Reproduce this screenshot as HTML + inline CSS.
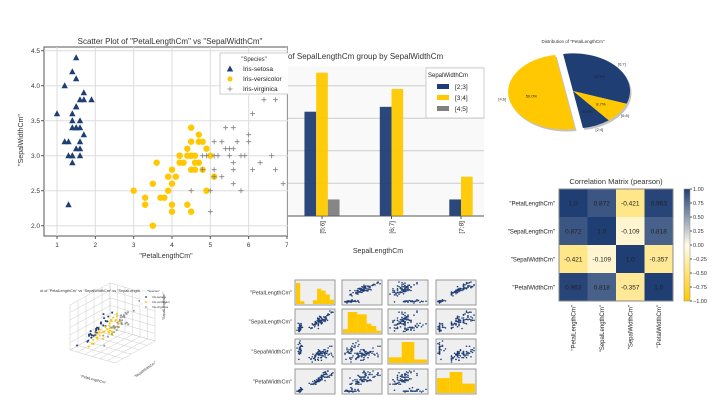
<!DOCTYPE html>
<html><head><meta charset="utf-8"><style>
html,body{margin:0;padding:0;background:#fff;width:720px;height:405px;overflow:hidden}
svg{display:block;font-family:"Liberation Sans",sans-serif}
</style></head><body>
<svg id="s" width="720" height="405" viewBox="0 0 720 405"></svg>
<script>
// ---------- data ----------
const setosaRows=[[5.1,3.5,1.4,0.2],[4.9,3.0,1.4,0.2],[4.7,3.2,1.3,0.2],[4.6,3.1,1.5,0.2],[5.0,3.6,1.4,0.2],[5.4,3.9,1.7,0.4],[4.6,3.4,1.4,0.3],[5.0,3.4,1.5,0.2],[4.4,2.9,1.4,0.2],[5.4,3.7,1.5,0.2],[4.8,3.4,1.6,0.2],[5.8,4.0,1.2,0.2],[5.7,4.4,1.5,0.4],[5.7,3.8,1.7,0.3],[4.5,2.3,1.3,0.3],[5.2,4.1,1.5,0.1],[5.5,4.2,1.4,0.2],[4.6,3.6,1.0,0.2],[5.1,3.3,1.7,0.5],[4.8,3.0,1.4,0.1],[5.1,3.8,1.9,0.4],[5.3,3.7,1.5,0.2],[5.0,3.2,1.2,0.2],[4.4,3.0,1.3,0.2],[5.1,3.4,1.5,0.2],[5.0,3.5,1.6,0.6],[5.1,3.8,1.6,0.2],[4.8,3.1,1.6,0.2],[5.0,3.0,1.6,0.2],[4.7,3.2,1.6,0.2]];
const versicolorRows=[[7.0,3.2,4.7,1.4],[6.4,3.2,4.5,1.5],[6.9,3.1,4.9,1.5],[5.5,2.3,4.0,1.3],[6.5,2.8,4.6,1.5],[5.7,2.8,4.5,1.3],[6.3,3.3,4.7,1.6],[4.9,2.4,3.3,1.0],[6.6,2.9,4.6,1.3],[5.2,2.7,3.9,1.4],[5.0,2.0,3.5,1.0],[5.9,3.0,4.2,1.5],[6.0,2.2,4.0,1.0],[6.1,2.9,4.7,1.4],[5.6,2.9,3.6,1.3],[6.7,3.1,4.4,1.4],[5.6,3.0,4.5,1.5],[5.8,2.7,4.1,1.0],[6.2,2.2,4.5,1.5],[5.6,2.5,3.9,1.1],[5.9,3.2,4.8,1.8],[6.0,3.4,4.5,1.6],[5.7,2.6,3.5,1.0],[6.0,2.7,5.1,1.6],[5.4,3.0,4.5,1.5],[5.5,2.4,3.8,1.1],[5.5,2.4,3.7,1.0],[6.1,3.0,4.6,1.4],[5.8,2.6,4.0,1.2],[5.0,2.3,3.3,1.0],[6.3,2.5,4.9,1.5],[6.1,2.8,4.0,1.3],[6.7,3.0,5.0,1.7],[5.7,3.0,4.2,1.2],[6.2,2.9,4.3,1.3],[5.1,2.5,3.0,1.1],[6.6,3.0,4.4,1.4],[6.8,2.8,4.8,1.4],[5.7,2.9,4.2,1.3],[6.3,2.3,4.4,1.3]];
const virginicaRows=[[6.3,3.3,6.0,2.5],[5.8,2.7,5.1,1.9],[7.1,3.0,5.9,2.1],[6.3,2.9,5.6,1.8],[6.5,3.0,5.8,2.2],[7.6,3.0,6.6,2.1],[4.9,2.5,4.5,1.7],[7.3,2.9,6.3,1.8],[6.7,2.5,5.8,1.8],[7.2,3.6,6.1,2.5],[6.5,3.2,5.1,2.0],[6.4,2.7,5.3,1.9],[6.8,3.0,5.5,2.1],[5.7,2.5,5.0,2.0],[7.7,3.8,6.7,2.2],[7.7,2.6,6.9,2.3],[6.0,2.2,5.0,1.5],[6.9,3.2,5.7,2.3],[7.7,2.8,6.7,2.0],[6.3,3.4,5.6,2.4],[7.9,3.8,6.4,2.0],[6.1,2.6,5.6,1.4],[7.2,3.2,6.0,1.8],[6.2,2.8,4.8,1.8],[6.4,3.1,5.5,1.8],[6.0,3.0,4.8,1.8],[6.9,3.1,5.4,2.1],[6.7,3.1,5.6,2.4],[6.4,2.8,5.6,2.1],[7.4,2.8,6.1,1.9],[6.5,3.0,5.2,2.0],[6.2,3.4,5.4,2.3],[5.9,3.0,5.1,1.8],[6.3,2.8,5.1,1.5],[6.1,3.0,4.9,1.8],[6.4,3.2,5.3,2.3]];
const scatterXTicks=[1,2,3,4,5,6,7];
const scatterYTicks=[2.0,2.5,3.0,3.5,4.0,4.5];
const barCategories=["[5;6]","[6;7]","[7;8]"];
const barSeriesNames=["[2;3]","[3;4]","[4;5]"];
const barSeries23=[32,33.5,5];
const barSeries34=[44,39,12];
const barSeries45=[5,0,0];
const barGridValues=[10,20,30,40];
const pieLabels=["[6;7]","[6;8]","[2;4]","[4;6]"];
const pieValues=[33.3,8.7,8.0,50.0];
const corrLabels=['"PetalLengthCm"','"SepalLengthCm"','"SepalWidthCm"','"PetalWidthCm"'];
const corrRow0=[1.0,0.872,-0.421,0.963];
const corrRow1=[0.872,1.0,-0.109,0.818];
const corrRow2=[-0.421,-0.109,1.0,-0.357];
const corrRow3=[0.963,0.818,-0.357,1.0];
const corrText=[["1.0","0.872","-0.421","0.963"],["0.872","1.0","-0.109","0.818"],["-0.421","-0.109","1.0","-0.357"],["0.963","0.818","-0.357","1.0"]];
const cbarTicks=[1.00,0.75,0.50,0.25,0.00,-0.25,-0.50,-0.75,-1.00];
const histPetalLength=[44,6,0,0,8,32,28,20,9];
const histSepalLength=[5,27,27,24,24,12,9,3];
const histSepalWidth=[13,48,8];
const histPetalWidth=[27,38,17];

const NAVY="#1f3e74",YEL="#ffc800",GR="#808080";
const S=document.getElementById('s');
const NS="http://www.w3.org/2000/svg";
function mk(tag,attrs,parent){const e=document.createElementNS(NS,tag);for(const k in attrs)e.setAttribute(k,attrs[k]);(parent||S).appendChild(e);return e;}
function txt(x,y,t,attrs,parent){const e=mk('text',Object.assign({x:x,y:y},attrs||{}),parent);e.textContent=t;return e;}

// ---------- scatter ----------
const sx=v=>57+(v-1)*38.33, sy=v=>225.7-(v-2)*70;
const sc=mk('g',{});


mk('rect',{x:44,y:47,width:244,height:189,fill:'#fff',stroke:'#555','stroke-width':1},sc);
scatterXTicks.forEach(t=>{mk('line',{x1:sx(t),x2:sx(t),y1:47,y2:236,stroke:'#ddd'},sc);mk('line',{x1:sx(t),x2:sx(t),y1:236,y2:239,stroke:'#555'},sc);
 const l=txt(sx(t),247,String(t),{'font-size':6.5,'text-anchor':'middle',fill:'#333'},sc);});
scatterYTicks.forEach(t=>{mk('line',{x1:44,x2:288,y1:sy(t),y2:sy(t),stroke:'#ddd'},sc);mk('line',{x1:41,x2:44,y1:sy(t),y2:sy(t),stroke:'#555'},sc);
 const l=txt(40,sy(t)+2.5,t.toFixed(1),{'font-size':6.5,'text-anchor':'end',fill:'#333'},sc);});
const st=txt(170,44,'Scatter Plot of "PetalLengthCm" vs "SepalWidthCm"',{'font-size':8,'text-anchor':'middle',fill:'#333'},sc);

const sxt=txt(166,258,'"PetalLengthCm"',{'font-size':7,'text-anchor':'middle',fill:'#333'},sc);

const syt=txt(0,0,'"SepalWidthCm"',{'font-size':7,'text-anchor':'middle',fill:'#333',transform:'translate(23,140) rotate(-90)'},sc);

function tri(x,y,c,p){const e=mk('path',{d:`M${x},${y-3.5}L${x+3.2},${y+2.5}L${x-3.2},${y+2.5}Z`,fill:c},p);return e;}
function plus(x,y,c,p){const e=mk('path',{d:`M${x-2.5},${y}H${x+2.5}M${x},${y-2.5}V${y+2.5}`,stroke:c,'stroke-width':0.8},p);return e;}
setosaRows.forEach(r=>{const e=tri(sx(r[2]),sy(r[1]),NAVY,sc);});
versicolorRows.forEach(r=>{const e=mk('circle',{cx:sx(r[2]),cy:sy(r[1]),r:3.2,fill:YEL},sc);});
virginicaRows.forEach(r=>{if(sx(r[2])>288)return;const e=plus(sx(r[2]),sy(r[1]),GR,sc);});
const lg=mk('g',{},sc);

mk('rect',{x:220,y:53,width:70,height:41,fill:'#fff',stroke:'#ccc'},lg);
txt(254,61,'"Species"',{'font-size':6,'text-anchor':'middle',fill:'#333'},lg);
tri(230,69,NAVY,lg);txt(243,71,'Iris-setosa',{'font-size':6.5,fill:'#222'},lg);
mk('circle',{cx:230,cy:79,r:2.5,fill:YEL},lg);txt(243,81,'Iris-versicolor',{'font-size':6.5,fill:'#222'},lg);
plus(230,89,GR,lg);txt(243,91,'Iris-virginica',{'font-size':6.5,fill:'#222'},lg);

// ---------- bar chart ----------
const bg=mk('g',{});

mk('rect',{x:288,y:46,width:196,height:200,fill:'#fff'},bg);
const by=v=>215.7-v*3.25;
const groupX=i=>322+i*69.5;
mk('rect',{x:288,y:66,width:196,height:150,fill:'#f9f9f9'},bg);
barGridValues.forEach(v=>mk('line',{x1:288,x2:484,y1:by(v),y2:by(v),stroke:'#ccc'},bg));
mk('line',{x1:288,x2:484,y1:216,y2:216,stroke:'#555'},bg);
const allSeries=[barSeries23,barSeries34,barSeries45];
const barColors=[NAVY,YEL,GR];
barCategories.forEach((c,i)=>{
  const present=allSeries.map((s,j)=>j).filter(j=>allSeries[j][i]>0);
  const n=present.length;
  present.forEach((j,k)=>{const w=11.7;const x=groupX(i)-n*w/2+k*w;
    const r=mk('rect',{x:x,y:by(allSeries[j][i]),width:w,height:allSeries[j][i]*3.25,fill:barColors[j],opacity:0.95},bg);
    });
  mk('line',{x1:groupX(i),x2:groupX(i),y1:216,y2:219,stroke:'#555'},bg);
  const l=txt(0,0,c,{'font-size':6.5,fill:'#333','text-anchor':'end',transform:`translate(${groupX(i)+2.5},221) rotate(-90)`},bg);
  
});
const bt=txt(288,59,'of SepalLengthCm group by SepalWidthCm',{'font-size':8,fill:'#333'},bg);

const bxt=txt(378,253,'SepalLengthCm',{'font-size':7,'text-anchor':'middle',fill:'#333'},bg);

const bl=mk('g',{},bg);

mk('rect',{x:426,y:68,width:58,height:50,fill:'#fff',stroke:'#ccc'},bl);
txt(428,77,'SepalWidthCm',{'font-size':6,fill:'#222'},bl);
barSeriesNames.forEach((n,j)=>{mk('rect',{x:437,y:84+j*11,width:12,height:5,fill:barColors[j]},bl);txt(455,89+j*11,n,{'font-size':6.5,fill:'#222'},bl);});

// ---------- pie ----------
const pg=mk('g',{});

const pt=txt(573,43,'Distribution of "PetalLengthCm"',{'font-size':4.5,'text-anchor':'middle',fill:'#333'},pg);

const pieColors=[NAVY,YEL,NAVY,YEL];
const pieExplode=[0,0,0,1];
const total=pieValues.reduce((a,b)=>a+b,0);
const R=57,KY=0.66,CX=573,CY=91;
let ang=100;
const slices=[];
pieValues.forEach((v,i)=>{const sweep=v/total*360;slices.push([ang,ang-sweep]);ang-=sweep;});
function arcPath(a0,a1,dx,dy){const rad=a=>a*Math.PI/180;
  const p=a=>[CX+dx+R*Math.cos(rad(a)),CY+dy-R*KY*Math.sin(rad(a))];
  const [x0,y0]=p(a0),[x1,y1]=p(a1);const large=Math.abs(a0-a1)>180?1:0;
  return `M${CX+dx},${CY+dy}L${x0},${y0}A${R},${R*KY} 0 ${large} 1 ${x1},${y1}Z`;}
slices.forEach((s,i)=>{const mid=(s[0]+s[1])/2*Math.PI/180;const dx=pieExplode[i]*8*Math.cos(mid),dy=-pieExplode[i]*8*KY*Math.sin(mid);
  mk('path',{d:arcPath(s[0],s[1],dx+1.5,dy+2),fill:'#999',opacity:0.6},pg);});
slices.forEach((s,i)=>{const mid=(s[0]+s[1])/2*Math.PI/180;const dx=pieExplode[i]*8*Math.cos(mid),dy=-pieExplode[i]*8*KY*Math.sin(mid);
  const p=mk('path',{d:arcPath(s[0],s[1],dx,dy),fill:pieColors[i]},pg);
  
  txt(CX+dx+R*0.6*Math.cos(mid),CY+dy-R*KY*0.6*Math.sin(mid)+1.5,pieValues[i].toFixed(1)+'%',{'font-size':4,'text-anchor':'middle',fill:'#222'},pg);
  txt(CX+dx+R*1.12*Math.cos(mid),CY+dy-R*KY*1.12*Math.sin(mid)+1.5,pieLabels[i],{'font-size':4,'text-anchor':'middle',fill:'#333'},pg);
});

// ---------- correlation heatmap ----------
const hg=mk('g',{});

function lerp(a,b,t){return Math.round(a+(b-a)*t);}
function cmap(v){const w=[255,252,235];let c;if(v>=0)c=[31,62,116];else{c=[255,200,0];v=-v;}
  return `rgb(${lerp(w[0],c[0],v)},${lerp(w[1],c[1],v)},${lerp(w[2],c[2],v)})`;}
const corrRows=[corrRow0,corrRow1,corrRow2,corrRow3];
const HX=559,HY=189,CW=28.5,CH=28;
corrRows.forEach((row,i)=>row.forEach((v,j)=>{
  const r=mk('rect',{x:HX+j*CW,y:HY+i*CH,width:CW,height:CH,fill:cmap(v)},hg);
  
  txt(HX+j*CW+CW/2,HY+i*CH+CH/2+2.5,corrText[i][j],{'font-size':6.5,'text-anchor':'middle',fill:'#222'},hg);
}));
mk('rect',{x:HX,y:HY,width:CW*4,height:CH*4,fill:'none',stroke:'#888'},hg);
corrLabels.forEach((l,i)=>{txt(HX-4,HY+i*CH+CH/2+2.5,l,{'font-size':6,'text-anchor':'end',fill:'#222'},hg);
  txt(0,0,l,{'font-size':6,'text-anchor':'end',fill:'#222',transform:`translate(${HX+i*CW+CW/2+2},${HY+CH*4+4}) rotate(-90)`},hg);});
const ht=txt(616,184,'Correlation Matrix (pearson)',{'font-size':7.5,'text-anchor':'middle',fill:'#333'},hg);

const cb=mk('g',{},hg);

const defs=mk('defs',{});const gr=mk('linearGradient',{id:'cbg',x1:0,y1:0,x2:0,y2:1},defs);
[[0,1],[0.5,0],[1,-1]].forEach(s=>mk('stop',{offset:s[0],'stop-color':cmap(s[1])},gr));
mk('rect',{x:684,y:189,width:6,height:112,fill:'url(#cbg)',stroke:'#888','stroke-width':0.5},cb);
cbarTicks.forEach(t=>{const y=189+(1-t)/2*112;mk('line',{x1:690,x2:692,y1:y,y2:y,stroke:'#555'},cb);
  txt(693,y+2,(t<0?'\u2212':'')+Math.abs(t).toFixed(2),{'font-size':5.5,fill:'#333'},cb);});

// ---------- pair plot ----------
const pp=mk('g',{});

const allRows=setosaRows.concat(versicolorRows,virginicaRows);
const featIdx=[2,0,1,3];
const featMin=[1,4.3,2,0.1],featMax=[6.9,7.9,4.4,2.5];
const colX=[295,342,388,436],rowY=[280,309,339,369],PW=40,PH=25;
const hists=[histPetalLength,histSepalLength,histSepalWidth,histPetalWidth];
for(let r=0;r<4;r++){
  txt(292,rowY[r]+PH/2+2,corrLabels[r],{'font-size':5.5,'text-anchor':'end',fill:'#333'},pp);
  for(let c=0;c<4;c++){
    const cell=mk('g',{},pp);
    
    mk('rect',{x:colX[c],y:rowY[r],width:PW,height:PH,fill:'#efefef',stroke:'#999','stroke-width':1},cell);
    if(r===c){const h=hists[r];const m=Math.max(...h);const bw=(PW-2)/h.length;
      h.forEach((v,k)=>mk('rect',{x:colX[c]+1+k*bw,y:rowY[r]+PH-1-v/m*(PH-4),width:bw,height:v/m*(PH-4),fill:YEL},cell));}
    else{const fx=featIdx[c],fy=featIdx[r];
      allRows.forEach(row=>{const px=colX[c]+2+(row[fx]-featMin[c])/(featMax[c]-featMin[c])*(PW-4);
        const py=rowY[r]+PH-2-(row[fy]-featMin[r])/(featMax[r]-featMin[r])*(PH-4);
        mk('circle',{cx:px,cy:py,r:0.8,fill:NAVY},cell);});}
  }
}

// ---------- 3d scatter ----------
const g3=mk('g',{});

// projection: x=petal length(1..7), y=sepal width(2..4.5), z=sepal length(4.3..7.9)
function P(a,b,c){const u=(a-1)/6,v=(b-2)/2.5,w=(c-4.3)/3.6;
  return [70+u*45+v*40, 350+u*13-v*22-w*45];}
function L(p,q){mk('line',{x1:p[0],y1:p[1],x2:q[0],y2:q[1],stroke:'#ccc','stroke-width':0.5},g3);}
for(let k=0;k<=6;k++){const a=1+k;L(P(a,4.5,4.3),P(a,4.5,7.9));L(P(a,2,4.3),P(a,4.5,4.3));}
for(let k=0;k<=5;k++){const b=2+k*0.5;L(P(1,b,4.3),P(1,b,7.9));L(P(1,b,4.3),P(7,b,4.3));}
for(let k=0;k<=6;k++){const c=4.3+k*0.6;L(P(1,2,c),P(1,4.5,c));L(P(1,4.5,c),P(7,4.5,c));}
[[setosaRows,NAVY],[versicolorRows,YEL],[virginicaRows,'#999']].forEach(([rows,col])=>rows.forEach(r=>{const p=P(r[2],r[1],r[0]);
  mk('circle',{cx:p[0],cy:p[1],r:1,fill:col},g3);}));
txt(40,292,'ot of "PetalLengthCm" vs "SepalWidthCm" vs "SepalLengthCm"',{'font-size':3.8,fill:'#333'},g3);
mk('rect',{x:140,y:288,width:32,height:20,fill:'#fff',opacity:0.8},g3);
txt(147,292,'"Species"',{'font-size':3,fill:'#333'},g3);
mk('circle',{cx:146,cy:297,r:0.9,fill:NAVY},g3);txt(152,298,'Iris-setosa',{'font-size':3,fill:'#333'},g3);
mk('circle',{cx:146,cy:302,r:0.9,fill:YEL},g3);txt(152,303,'Iris-versicolor',{'font-size':3,fill:'#333'},g3);
mk('circle',{cx:146,cy:307,r:0.9,fill:'#999'},g3);txt(152,308,'Iris-virginica',{'font-size':3,fill:'#333'},g3);
txt(80,377,'"PetalLengthCm"',{'font-size':3.5,fill:'#333',transform:'rotate(15 80 377)'},g3);
txt(135,378,'"SepalWidthCm"',{'font-size':3.5,fill:'#333',transform:'rotate(-35 135 378)'},g3);
txt(0,0,'"SepalLengthCm"',{'font-size':3.5,fill:'#333',transform:'translate(165,320) rotate(-90)'},g3);
</script>
</body></html>
